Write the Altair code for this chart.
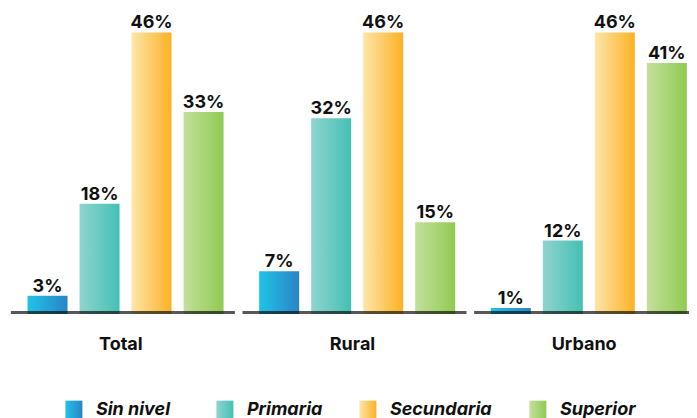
import altair as alt
import pandas as pd

groups = ["Total", "Rural", "Urbano"]
categories = ["Sin nivel", "Primaria", "Secundaria", "Superior"]
values_total = [3, 18, 46, 33]
values_rural = [7, 32, 46, 15]
values_urbano = [1, 12, 46, 41]
grad_left = ["#20C3E8", "#8FD4CF", "#FEE6A8", "#C4E09C"]
grad_right = ["#2A84C5", "#44C0B3", "#FBB124", "#90CA52"]
legend_shift = [0, 0, -8, 11]

FONT = "Inter"
W = 681
H = 306
PI_G = 0.06

rows = []
for g, vals in zip(groups, [values_total, values_rural, values_urbano]):
    for c, v in zip(categories, vals):
        rows.append({"grupo": g, "nivel": c, "valor": v, "etiqueta": f"{v}%"})
df = pd.DataFrame(rows)
df_groups = pd.DataFrame({"grupo": groups})
df_leg = pd.DataFrame({"nivel": categories})


def grad(i):
    return alt.LinearGradient(
        gradient="linear", x1=0, x2=1, y1=0, y2=0,
        stops=[alt.GradientStop(color=grad_left[i], offset=0),
               alt.GradientStop(color=grad_right[i], offset=1)],
    )


x_enc = alt.X(
    "grupo:N",
    scale=alt.Scale(domain=groups, paddingInner=PI_G, paddingOuter=0),
    axis=alt.Axis(title=None, domain=False, ticks=False, labelAngle=0,
                  labelFontSize=18, labelFontWeight="bold", labelColor="#111",
                  labelFont=FONT, labelPadding=21, labelOffset=4),
)
xo_enc = alt.XOffset(
    "nivel:N",
    scale=alt.Scale(domain=categories, paddingInner=0.2308, paddingOuter=0.2087, align=0.9),
)
y_enc = alt.Y("valor:Q", scale=alt.Scale(domain=[0, 50]), axis=None)

base = alt.Chart(df)
layers = []
for i, c in enumerate(categories):
    layers.append(
        base.mark_bar(color=grad(i)).encode(x=x_enc, xOffset=xo_enc, y=y_enc)
        .transform_filter(alt.datum.nivel == c)
    )

labels = base.mark_text(
    baseline="alphabetic", dy=-4, font=FONT, fontSize=18, fontWeight="bold", color="#111"
).encode(x=x_enc, xOffset=xo_enc, y=y_enc, text="etiqueta:N")

baseline = alt.Chart(df_groups).mark_tick(
    size=224, thickness=3, color="#111", xOffset=6, yOffset=-1.5, clip=True
).encode(x=x_enc, y=alt.datum(0))

main = alt.layer(*layers, labels, baseline).properties(width=W, height=H)

leg_x = alt.X(
    "nivel:N",
    scale=alt.Scale(type="point", domain=categories, padding=0.755, align=0.289),
    axis=None,
)
leg_base = alt.Chart(df_leg)
leg_layers = []
for i, c in enumerate(categories):
    leg_layers.append(
        leg_base.mark_point(shape="M-1,-1.1V1.1H1V-1.1Z", size=289, filled=True,
                            color=grad(i), opacity=1, xOffset=legend_shift[i])
        .encode(x=leg_x)
        .transform_filter(alt.datum.nivel == c)
    )
    leg_layers.append(
        leg_base.mark_text(
            align="left", dx=22 + legend_shift[i], font=FONT, fontSize=18, fontWeight="bold",
            fontStyle="italic", color="#111"
        ).encode(x=leg_x, text="nivel:N")
        .transform_filter(alt.datum.nivel == c)
    )
legend = alt.layer(*leg_layers).properties(width=W, height=20)

chart = alt.vconcat(main, legend, spacing=47).configure(padding=0).configure_view(strokeWidth=0)

chart.save("out.html", embed_options={"renderer": "svg", "actions": False})
